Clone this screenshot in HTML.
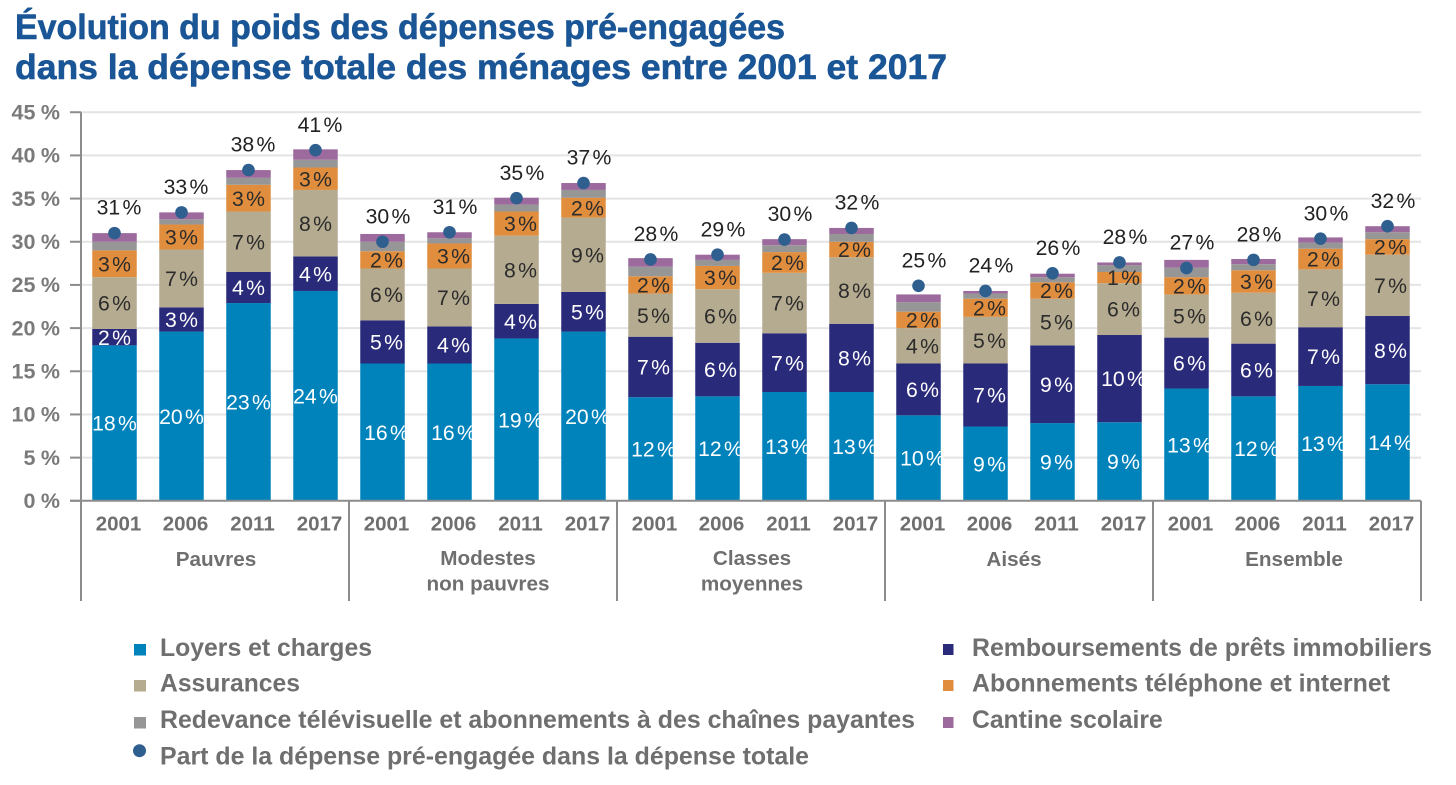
<!DOCTYPE html>
<html lang="fr">
<head>
<meta charset="utf-8">
<title>Évolution du poids des dépenses pré-engagées</title>
<style>
html,body{margin:0;padding:0;background:#fff;}
svg{display:block;font-family:"Liberation Sans",Arial,sans-serif;filter:blur(0.35px);}
</style>
</head>
<body>
<svg id="chart" width="1456" height="785" viewBox="0 0 1456 785" xmlns="http://www.w3.org/2000/svg">
  <rect x="0" y="0" width="1456" height="785" fill="#ffffff"/>
  <text x="15" y="39" font-size="35" font-weight="700" fill="#1a5596" stroke="#1a5596" stroke-width="0.6" textLength="770" lengthAdjust="spacingAndGlyphs">Évolution du poids des dépenses pré-engagées</text>
  <text x="15" y="79" font-size="35" font-weight="700" fill="#1a5596" stroke="#1a5596" stroke-width="0.6" textLength="932" lengthAdjust="spacingAndGlyphs">dans la dépense totale des ménages entre 2001 et 2017</text>
  <g id="grid"></g>
  <g id="bars"></g>
  <g id="axes"></g>
  <g id="dots"></g>
  <g id="labels"></g>

  <g font-size="24.7" font-weight="700" fill="#6f6f6f">
    <rect x="134" y="644" width="12" height="11.5" fill="#0082bb"/>
    <text x="160" y="656" textLength="212" lengthAdjust="spacingAndGlyphs">Loyers et charges</text>
    <rect x="134" y="680" width="12" height="11.5" fill="#b5ab90"/>
    <text x="160" y="691.5">Assurances</text>
    <rect x="134" y="717" width="12" height="11.5" fill="#969696"/>
    <text x="160" y="728" textLength="755" lengthAdjust="spacingAndGlyphs">Redevance télévisuelle et abonnements à des chaînes payantes</text>
    <circle cx="139.5" cy="750.7" r="6.5" fill="#2f5f8f"/>
    <text x="160" y="764.5" textLength="649" lengthAdjust="spacingAndGlyphs">Part de la dépense pré-engagée dans la dépense totale</text>
    <rect x="943" y="644" width="10.5" height="11" fill="#2a2a7a"/>
    <text x="972" y="656" textLength="460" lengthAdjust="spacingAndGlyphs">Remboursements de prêts immobiliers</text>
    <rect x="943" y="680" width="10.5" height="11" fill="#e08e3e"/>
    <text x="972" y="691.5" textLength="418" lengthAdjust="spacingAndGlyphs">Abonnements téléphone et internet</text>
    <rect x="943" y="717" width="10.5" height="11" fill="#9c6a9c"/>
    <text x="972" y="728">Cantine scolaire</text>
  </g>
</svg>
<script>
const yTicks = [0, 5, 10, 15, 20, 25, 30, 35, 40, 45];
const years = ["2001", "2006", "2011", "2017"];
const groups = [["Pauvres"], ["Modestes", "non pauvres"], ["Classes", "moyennes"], ["Aisés"], ["Ensemble"]];
const loyers = [18, 19.6, 22.9, 24.3, 15.9, 15.9, 18.8, 19.6, 12, 12.1, 12.6, 12.6, 9.9, 8.6, 9, 9.1, 13, 12.1, 13.3, 13.5];
const remboursements = [1.9, 2.8, 3.6, 4, 5, 4.3, 4, 4.6, 7, 6.2, 6.8, 7.9, 6, 7.3, 9, 10.1, 5.9, 6.1, 6.8, 7.9];
const assurances = [6, 6.7, 7, 7.7, 6, 6.7, 7.9, 8.6, 5, 6.2, 7, 7.7, 4.1, 5.4, 5.4, 6, 5, 5.9, 6.7, 7.1];
const abonnements = [3.1, 2.9, 3.1, 2.6, 2, 2.9, 2.8, 2.3, 2, 2.7, 2.4, 1.8, 1.9, 2.1, 1.9, 1.3, 2, 2.6, 2.4, 1.8];
const redevance = [1, 0.6, 0.8, 0.9, 1.1, 0.6, 0.8, 0.9, 1.1, 0.7, 0.8, 0.9, 1.1, 0.6, 0.6, 0.8, 1.1, 0.7, 0.7, 0.8];
const cantine = [1, 0.8, 0.9, 1.2, 0.9, 0.7, 0.8, 0.8, 1, 0.6, 0.7, 0.7, 0.9, 0.3, 0.4, 0.3, 0.9, 0.6, 0.6, 0.7];
const partTotale = [31, 33.4, 38.3, 40.6, 30, 31.1, 35.05, 36.8, 27.95, 28.5, 30.25, 31.6, 24.9, 24.3, 26.35, 27.6, 26.95, 27.9, 30.35, 31.8];

const NS = "http://www.w3.org/2000/svg";
const plotLeft = 81, plotRight = 1421, plotBase = 500.8, pxPerPct = 8.635;
const groupWidth = (plotRight - plotLeft) / groups.length;
const barStep = groupWidth / years.length, barWidth = 44.5;
const labelShift = [0, 4, 3, 4, 3];
const totalShift = [4.5, 5.5, 5.5, 5.5, 5.5];
const groupShift = [1, 5, 1, -5, 7];

function yScale(v) { return plotBase - v * pxPerPct; }
function xCenter(i) { return plotLeft + barStep * i + barStep / 2; }
function make(tag, attrs, parent, text) {
  const el = document.createElementNS(NS, tag);
  for (const k in attrs) el.setAttribute(k, attrs[k]);
  if (text !== undefined) el.textContent = text;
  parent.appendChild(el);
  return el;
}
function pctText(v) { return Math.round(v) + "\u00A0%"; }

const gridG = document.getElementById("grid");
const axesG = document.getElementById("axes");
const barsG = document.getElementById("bars");
const dotsG = document.getElementById("dots");
const labelsG = document.getElementById("labels");

yTicks.forEach(function (t) {
  if (t > 0) {
    const line = make("line", { x1: plotLeft, x2: plotRight, y1: yScale(t), y2: yScale(t), stroke: "#e4e4e4", "stroke-width": 2 }, gridG);
    
    
  }
  const tick = make("line", { x1: 70, x2: plotLeft, y1: yScale(t), y2: yScale(t), stroke: "#8c8c8c", "stroke-width": 2 }, axesG);
  
  
  const lab = make("text", { x: 60, y: yScale(t) - 0.5, dy: "0.36em", "text-anchor": "end", "font-size": 21.5, "font-weight": 700, "word-spacing": "-0.5px", fill: "#7a7a7a" }, axesG, t + " %");
  
  
});

const yAxis = make("line", { x1: plotLeft, x2: plotLeft, y1: yScale(45), y2: 601, stroke: "#8c8c8c", "stroke-width": 2 }, axesG);


const xAxis = make("line", { x1: 70, x2: plotRight, y1: plotBase, y2: plotBase, stroke: "#8c8c8c", "stroke-width": 2 }, axesG);



groups.forEach(function (name, g) {
  const sepX = plotLeft + groupWidth * (g + 1);
  const sep = make("line", { x1: sepX, x2: sepX, y1: plotBase, y2: 601, stroke: "#8c8c8c", "stroke-width": 2 }, axesG);
  
  
  name.forEach(function (line, li) {
    const cx = plotLeft + groupWidth * g + groupWidth / 2 + groupShift[g];
    const baseY = name.length > 1 ? 565 + li * 25.5 : 566;
    const gl = make("text", { x: cx, y: baseY, "text-anchor": "middle", "font-size": 20.7, "font-weight": 700, fill: "#6f6f6f" }, axesG, line);
    
    
  });
});

const series = [
  { values: loyers, color: "#0082bb", ink: "#ffffff", labelled: true },
  { values: remboursements, color: "#2a2a7a", ink: "#ffffff", labelled: true },
  { values: assurances, color: "#b5ab90", ink: "#2b2b2b", labelled: true },
  { values: abonnements, color: "#e08e3e", ink: "#2b2b2b", labelled: true },
  { values: redevance, color: "#969696", ink: "#2b2b2b", labelled: false },
  { values: cantine, color: "#9c6a9c", ink: "#2b2b2b", labelled: false }
];

partTotale.forEach(function (total, i) {
  const g = Math.floor(i / years.length);
  const cx = xCenter(i);
  const yl = make("text", { x: cx + 4, y: 530.5, "text-anchor": "middle", "font-size": 20.5, "font-weight": 700, fill: "#6f6f6f" }, axesG, years[i % years.length]);
  
  

  let base = 0;
  series.forEach(function (s) {
    const v = s.values[i];
    const top = yScale(base + v), bottom = yScale(base);
    const r = make("rect", { x: cx - barWidth / 2, y: top, width: barWidth, height: bottom - top, fill: s.color }, barsG);
    
    
    if (s.labelled) {
      const t = make("text", { x: cx + labelShift[g], y: (top + bottom) / 2, dy: "0.36em", "text-anchor": "middle", "font-size": 21.2, "word-spacing": "-3.5px", fill: s.ink }, labelsG, pctText(v));
      
      
    }
    base += v;
  });

  const dot = make("circle", { cx: cx, cy: yScale(total), r: 6.3, fill: "#2f5f8f" }, dotsG);
  
  
  const tl = make("text", { x: cx + totalShift[g], y: yScale(total) - 26, dy: "0.36em", "text-anchor": "middle", "font-size": 21.2, "word-spacing": "-3.5px", fill: "#222222" }, labelsG, pctText(total));
  
  
});
</script>
</body>
</html>
